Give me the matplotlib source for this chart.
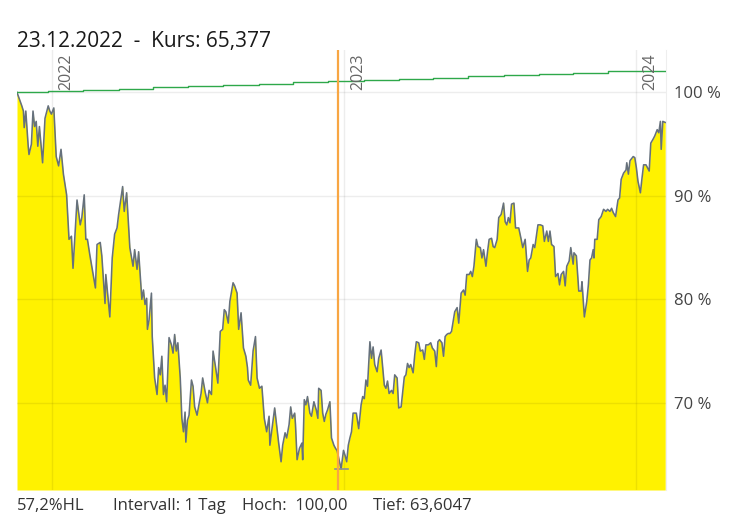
import matplotlib
matplotlib.use("Agg")
import matplotlib.pyplot as plt
import pandas as pd
import numpy as np

plt.rcParams['font.family'] = ['Open Sans', 'DejaVu Sans']

# ---- data ----
start_date = "2021-11-18"
cursor_label = "23.12.2022  -  Kurs: 65,377"
cursor_date = "2022-12-23"

days = [0, 6, 8, 9, 11, 14, 15, 18, 20, 22, 24, 26, 28, 32, 35, 39, 41, 43, 46, 49,
        52, 55, 58, 62, 65, 68, 70, 75, 79, 81, 84, 86, 88, 91, 98, 100, 104, 106, 110, 111,
        116, 119, 122, 125, 127, 132, 134, 137, 141, 145, 147, 150, 152, 156, 158, 160, 162, 163, 165, 168,
        169, 172, 175, 177, 179, 181, 183, 185, 187, 190, 193, 195, 197, 199, 201, 204, 206, 208, 210, 211,
        213, 215, 218, 220, 222, 225, 228, 230, 232, 235, 238, 240, 243, 245, 248, 251, 254, 257, 259, 261,
        264, 266, 270, 272, 275, 277, 280, 283, 286, 288, 289, 292, 295, 298, 300, 303, 306, 309, 312, 315,
        316, 318, 322, 325, 327, 330, 332, 335, 337, 340, 342, 344, 347, 348, 350, 353, 356, 357, 359, 361,
        363, 366, 368, 371, 374, 376, 377, 380, 382, 384, 386, 388, 391, 393, 396, 398, 400, 405, 408, 410,
        412, 414, 416, 418, 420, 424, 427, 430, 432, 434, 436, 438, 441, 443, 445, 447, 450, 452, 455, 457,
        459, 461, 463, 465, 468, 470, 472, 475, 477, 480, 482, 484, 486, 488, 490, 492, 495, 497, 499, 502,
        504, 507, 509, 511, 514, 517, 519, 522, 524, 526, 528, 531, 533, 535, 537, 539, 541, 543, 547, 550,
        552, 555, 558, 560, 562, 565, 567, 569, 571, 574, 576, 579, 581, 583, 586, 588, 590, 593, 595, 597,
        600, 602, 605, 608, 610, 612, 614, 616, 618, 621, 623, 627, 630, 632, 635, 638, 640, 642, 645, 647,
        651, 654, 657, 659, 662, 664, 666, 668, 671, 673, 676, 678, 680, 683, 685, 687, 690, 692, 695, 696,
        699, 702, 705, 706, 709, 712, 714, 716, 718, 720, 721, 722, 725, 727, 730, 733, 736, 738, 741, 743,
        745, 748, 751, 753, 755, 758, 761, 762, 764, 766, 770, 772, 774, 776, 779, 781, 783, 786, 788, 790,
        792, 795, 797, 800, 802, 804, 805, 807, 810]

kurs = [100.0, 98.7, 98.2, 96.6, 98.2, 94.8, 94.0, 95.0, 98.2, 96.7, 97.2, 94.8, 96.7, 93.2, 97.5, 98.7, 98.2, 97.9, 98.5, 93.8,
        92.9, 94.5, 92.1, 90.1, 85.8, 86.1, 83.0, 89.6, 87.2, 87.9, 90.1, 85.8, 85.8, 84.3, 81.1, 85.3, 85.5, 84.2, 79.6, 82.4,
        78.3, 84.0, 86.3, 86.9, 88.2, 90.9, 88.5, 90.3, 85.0, 83.2, 84.8, 82.9, 84.6, 80.0, 80.9, 79.5, 80.1, 77.1, 78.0, 80.6,
        76.4, 72.4, 70.8, 73.4, 72.7, 74.5, 70.8, 71.7, 70.1, 76.3, 75.6, 74.8, 76.6, 75.0, 75.8, 72.4, 68.5, 67.2, 69.1, 66.2,
        68.3, 68.8, 72.2, 71.6, 69.6, 68.8, 70.1, 70.9, 72.4, 71.1, 70.0, 71.2, 70.8, 75.0, 73.5, 71.9, 76.9, 77.1, 79.0, 78.8,
        77.7, 79.8, 81.6, 81.3, 80.6, 77.1, 78.7, 75.3, 74.5, 73.4, 72.2, 71.7, 75.0, 76.4, 72.4, 71.4, 71.6, 68.5, 67.2, 68.7,
        65.9, 67.1, 69.5, 67.5, 66.1, 64.3, 65.9, 67.1, 66.6, 67.9, 69.6, 68.5, 69.0, 67.9, 64.5, 65.6, 66.1, 64.5, 70.3, 69.8,
        70.6, 69.0, 68.7, 70.1, 69.3, 68.5, 71.4, 71.2, 69.0, 68.2, 68.9, 69.3, 70.1, 66.6, 65.9, 65.6, 65.377, 63.6047, 65.4, 64.9,
        64.3, 65.9, 66.6, 67.2, 69.0, 69.0, 67.5, 69.8, 70.6, 70.4, 72.2, 71.6, 75.9, 74.3, 75.4, 73.7, 73.0, 74.3, 75.1, 73.4,
        71.7, 71.4, 72.1, 70.9, 71.2, 70.9, 72.7, 72.4, 69.5, 69.6, 71.1, 72.5, 72.7, 73.8, 73.4, 73.7, 72.9, 74.6, 75.9, 75.8,
        75.0, 75.1, 74.2, 75.6, 75.6, 75.8, 75.3, 75.0, 73.5, 75.9, 76.1, 75.8, 74.5, 76.4, 76.6, 76.7, 76.7, 76.9, 78.8, 79.2,
        77.7, 80.6, 80.9, 80.4, 82.4, 82.4, 82.7, 82.2, 83.2, 85.8, 85.1, 85.0, 84.0, 84.8, 83.2, 84.6, 85.8, 85.9, 85.1, 85.0,
        85.8, 87.9, 88.2, 89.3, 87.5, 87.2, 87.9, 87.4, 89.2, 89.3, 86.9, 86.9, 85.8, 85.0, 85.8, 82.7, 83.8, 84.0, 85.3, 85.0,
        87.2, 87.2, 87.1, 85.6, 86.6, 85.6, 86.6, 85.3, 85.1, 82.2, 82.5, 81.4, 82.4, 82.7, 81.3, 83.2, 83.7, 85.0, 83.4, 84.5,
        84.2, 80.8, 80.8, 81.7, 78.3, 79.8, 81.4, 83.8, 84.0, 84.8, 84.0, 85.8, 85.8, 87.7, 88.0, 88.7, 88.5, 88.7, 88.5, 88.8,
        88.4, 88.0, 89.6, 89.8, 91.6, 92.2, 92.5, 93.2, 92.1, 93.4, 93.8, 93.7, 92.7, 91.4, 90.3, 91.7, 93.0, 93.0, 92.7, 92.4,
        95.1, 95.5, 95.8, 96.4, 96.1, 97.2, 94.5, 97.2, 97.1]

bench_days = [0, 39, 83, 127, 170, 214, 258, 302, 345, 389, 433, 477, 520, 564, 608, 652, 695, 739, 810]
bench = [100.0, 100.12, 100.24, 100.36, 100.48, 100.60, 100.72, 100.84, 100.96, 101.08,
         101.20, 101.32, 101.44, 101.56, 101.68, 101.80, 101.92, 102.04, 102.04]

year_ticks = ["2022-01-01", "2023-01-01", "2024-01-01"]
year_labels = ["2022", "2023", "2024"]
y_ticks = [70, 80, 90, 100]
bottom_texts = ["57,2%HL", "Intervall: 1 Tag", "Hoch:  100,00", "Tief: 63,6047"]

# ---- build ----
t0 = pd.Timestamp(start_date)
dates = t0 + pd.to_timedelta(days, unit="D")
bdates = t0 + pd.to_timedelta(bench_days, unit="D")
kurs = np.array(kurs)

fig = plt.figure(figsize=(7.38, 5.27), dpi=100)
ax = fig.add_axes([17 / 738, 37 / 527, 649 / 738, 440 / 527])

ymin, ymax = 61.57, 104.1
ax.set_ylim(ymin, ymax)
ax.set_xlim(dates[0], t0 + pd.Timedelta(days=811))

ax.fill_between(dates, kurs, ymin, color="#fff200", lw=0, zorder=1)
ax.plot(dates, kurs, color="#66717c", lw=1.15, zorder=3)

# grid
grid_c = (0, 0, 0, 0.07)
for yv in y_ticks:
    ax.axhline(yv, color=grid_c, lw=1, zorder=2)
for yt in year_ticks:
    ax.axvline(pd.Timestamp(yt), color=grid_c, lw=1, zorder=2)

# benchmark
ax.plot(bdates, bench, drawstyle="steps-post", color="#2ea84a", lw=1.0, zorder=4)

# cursor line
ax.axvline(pd.Timestamp(cursor_date) + pd.Timedelta(days=1), color="#f8a643", lw=1.6, zorder=5)

# min marker
imin = int(np.argmin(kurs))
ax.plot([dates[imin] - pd.Timedelta(days=8), dates[imin] + pd.Timedelta(days=8)],
        [kurs[imin], kurs[imin]], color="#8a9096", lw=1.2, zorder=4)

# year labels
for yt, lab in zip(year_ticks, year_labels):
    ax.annotate(lab, xy=(pd.Timestamp(yt), 100), xytext=(4, 1.5), textcoords="offset points",
                rotation=90, ha="left", va="bottom", fontsize=11.5, color="#666666", zorder=6)

# axes styling
for s in ["top", "left", "bottom"]:
    ax.spines[s].set_visible(False)
ax.spines["right"].set_color("#eeeeee")
ax.set_xticks([])
ax.yaxis.tick_right()
ax.set_yticks(y_ticks)
ax.set_yticklabels([f"{v} %" for v in y_ticks])
ax.tick_params(axis="y", length=0, pad=5.5, labelsize=12, labelcolor="#444444")

# texts
fig.text(17 / 738, 1 - 47 / 527, cursor_label, fontsize=15, color="#1a1a1a", va="baseline", ha="left")
xs = [17, 113, 242, 373]
for xp, tx in zip(xs, bottom_texts):
    fig.text(xp / 738, 16.5 / 527, tx, fontsize=12, color="#333333", va="baseline", ha="left")

fig.savefig("out.png", dpi=100)
